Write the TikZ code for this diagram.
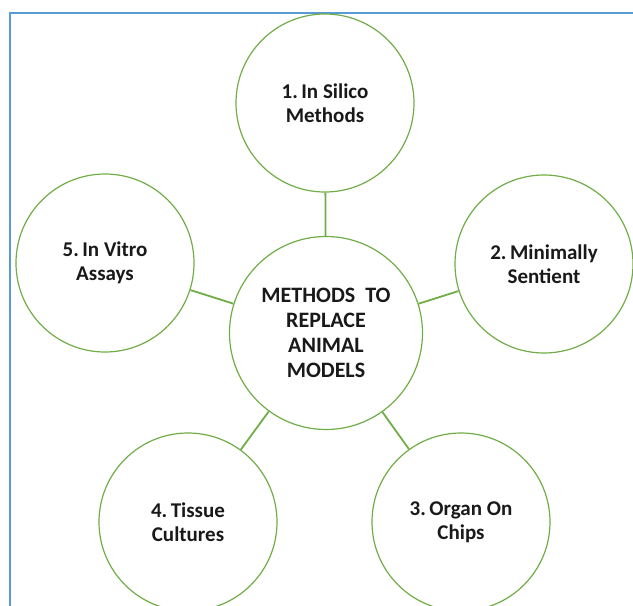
\documentclass[tikz,border=0pt]{standalone}
\usepackage{fontspec}
\setmainfont{Carlito}
\definecolor{ogreen}{HTML}{70AD47}
\definecolor{oblue}{HTML}{5B9BD5}
\begin{document}
\begin{tikzpicture}[x=1pt,y=-1pt,
  bubble/.style={circle,draw=ogreen,line width=1.2pt,minimum size=178pt,inner sep=0pt,align=center,
    font=\fontsize{21}{24}\selectfont\bfseries,text=black!90},
  hub/.style={bubble,minimum size=193pt,font=\fontsize{22}{25}\selectfont\bfseries},
  link/.style={draw=ogreen,line width=1.8pt}]
\useasboundingbox (0,0) rectangle (633,606);
\draw[oblue,line width=1.6pt] (10,606) -- (10,13) -- (633,13);
\node[hub] (c) at (326,333) {METHODS\ \ TO\\REPLACE\\ANIMAL\\MODELS};
\node[bubble] (n1) at (325,103) {1.\,In Silico\\Methods};
\node[bubble] (n2) at (544,264) {2.\,Minimally\\Sentient};
\node[bubble] (n3) at (461,522) {3.\,Organ On\\Chips};
\node[bubble] (n4) at (188,522) {4.\,Tissue\\Cultures};
\node[bubble] (n5) at (105,263) {5.\,In Vitro\\Assays};
\foreach \n in {n1,n2,n3,n4,n5} \draw[link] (c) -- (\n);
\end{tikzpicture}
\end{document}
